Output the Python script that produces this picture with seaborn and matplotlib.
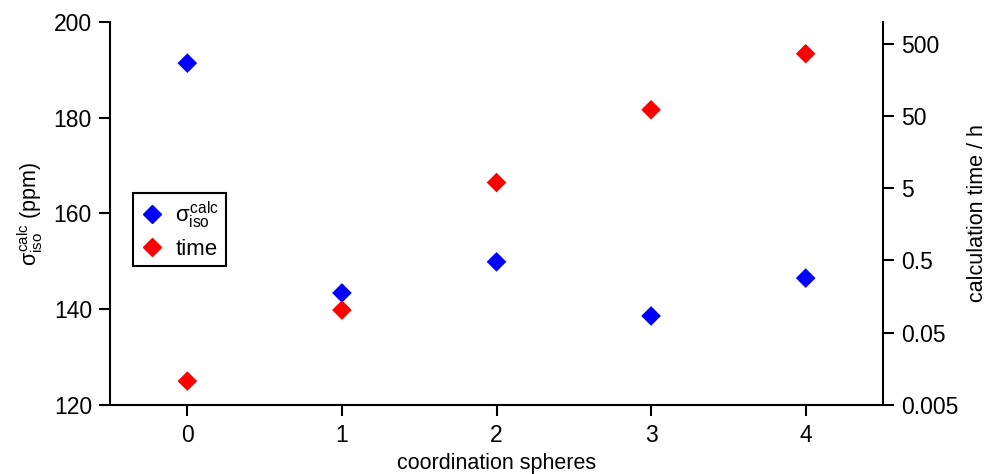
import matplotlib
matplotlib.use("Agg")
import matplotlib.pyplot as plt
import seaborn as sns
import pandas as pd
import numpy as np
from matplotlib.ticker import FixedLocator, FixedFormatter, NullLocator
from matplotlib.lines import Line2D

spheres = [0, 1, 2, 3, 4]
sigma_iso = [191.4, 143.4, 149.9, 138.6, 146.5]
calc_time = [0.0107, 0.103, 6.0, 61.0, 364.0]
left_ticks = [120, 140, 160, 180, 200]
right_ticks = [0.005, 0.05, 0.5, 5, 50, 500]
right_labels = ["0.005", "0.05", "0.5", "5", "50", "500"]

sns.set_style("white")
plt.rcParams['font.family'] = ['Liberation Sans', 'DejaVu Sans']
plt.rcParams['mathtext.fontset'] = 'custom'
plt.rcParams['mathtext.rm'] = 'Liberation Sans'
plt.rcParams['mathtext.it'] = 'Liberation Sans'

df = pd.DataFrame({"x": spheres, "sigma": sigma_iso, "time": calc_time})

fig = plt.figure(figsize=(9.87, 4.74), dpi=100)
ax = fig.add_axes([0.1115, 0.1456, 0.7831, 0.808])
ax2 = ax.twinx()

sns.scatterplot(data=df, x="x", y="sigma", ax=ax, marker="D", s=100, color="#0000ff",
                edgecolor="none", legend=False, zorder=3)
sns.scatterplot(data=df, x="x", y="time", ax=ax2, marker="D", s=100, color="#ff0000",
                edgecolor="none", legend=False, zorder=3)

ax.set_xlim(-0.5, 4.5)
ax.set_ylim(120, 200)
ax.set_yticks(left_ticks)
ax.set_xticks(spheres)
ax2.set_yscale("log")
ax2.set_ylim(0.005, 1000)
ax2.yaxis.set_major_locator(FixedLocator(right_ticks))
ax2.yaxis.set_major_formatter(FixedFormatter(right_labels))
ax2.yaxis.set_minor_locator(NullLocator())

for a in (ax, ax2):
    a.spines['top'].set_visible(False)
    for s in a.spines.values():
        s.set_linewidth(1.5)
        s.set_color('black')
ax.spines['right'].set_visible(False)
ax2.spines['left'].set_visible(False)
ax2.spines['bottom'].set_visible(False)

TS = 16.5
LS = 15.5
ax.tick_params(axis='both', direction='out', length=8, width=1.5, labelsize=TS,
               colors='black', labelcolor='black', pad=5)
ax.tick_params(axis='y', left=True)
ax.tick_params(axis='x', bottom=True, pad=6)
ax2.tick_params(axis='y', direction='out', length=8, width=1.5, labelsize=TS, right=True,
                colors='black', labelcolor='black', pad=5)

ax.set_xlabel("coordination spheres", fontsize=LS, labelpad=4, color='black')
ax.set_ylabel(r"$\sigma^{\rm calc}_{\rm iso}$ (ppm)", fontsize=LS, labelpad=6, color='black')
ax2.set_ylabel("calculation time / h", fontsize=LS, labelpad=6, color='black')

handles = [
    Line2D([], [], marker='D', linestyle='none', color='#0000ff', markersize=9),
    Line2D([], [], marker='D', linestyle='none', color='#ff0000', markersize=9),
]
leg = ax.legend(handles, [r"$\sigma^{\rm calc}_{\rm iso}$", "time"], loc='upper left',
                bbox_to_anchor=(0.0298, 0.5535), fontsize=16, frameon=True, fancybox=False,
                edgecolor='black', framealpha=1, handletextpad=0.5, borderpad=0.3,
                handlelength=1.1, borderaxespad=0, labelspacing=0.35)
leg.get_frame().set_linewidth(1.5)
for t in leg.get_texts():
    t.set_color('black')

fig.savefig("out.png", dpi=100)
